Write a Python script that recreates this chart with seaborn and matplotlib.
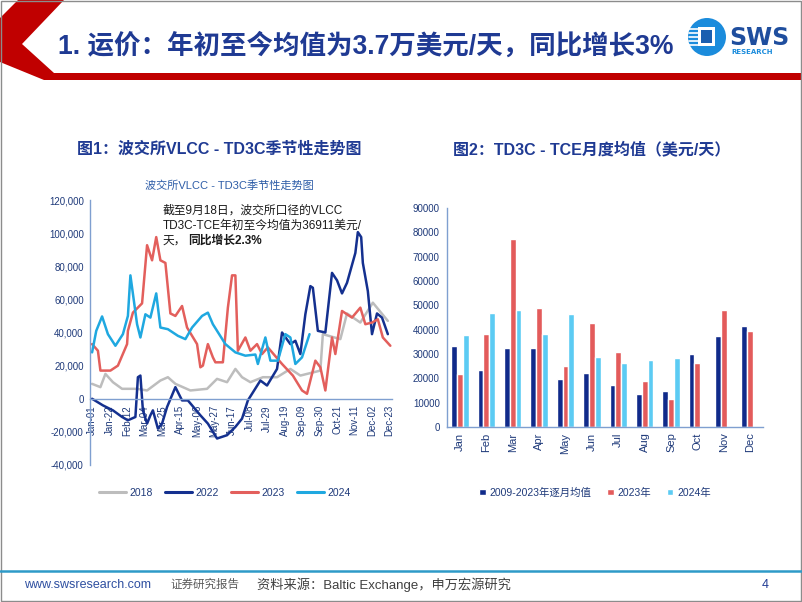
import numpy as np
import pandas as pd
import seaborn as sns
import matplotlib
matplotlib.use('Agg')
import matplotlib.pyplot as plt
from matplotlib.patches import Polygon, Circle, Rectangle
from matplotlib.ticker import FuncFormatter

# ---- line chart data (day of year, value in USD/day) ----
days_2018 = [0, 10, 16, 25, 36, 54, 66, 82, 91, 100, 118, 138, 150, 162, 172, 180, 190, 205, 222, 238, 250, 274, 277, 298, 306, 322, 337, 355]
vals_2018 = [9000, 7000, 15000, 10000, 6000, 6000, 5000, 11000, 13000, 9000, 5000, 6000, 12000, 10000, 18000, 13000, 10000, 13000, 13000, 18000, 14000, 17000, 39000, 36000, 51500, 46000, 58000, 47000]

days_2022 = [0, 13, 25, 36, 43, 52, 55, 58, 61, 66, 70, 73, 79, 84, 90, 100, 108, 115, 130, 139, 150, 162, 172, 180, 187, 202, 210, 222, 228, 238, 244, 250, 256, 262, 265, 271, 280, 288, 294, 300, 306, 316, 319, 323, 325, 331, 336, 342, 348, 355]
vals_2022 = [0, -4000, -7000, -11000, -13000, -11000, 13000, 14000, -7000, -15000, -10000, -7000, -18000, -15000, -5000, 7000, -1000, -1000, -10000, -15000, -24000, -22000, -17000, -12000, -1000, 11000, 8000, 18000, 40000, 33000, 35000, 27000, 51000, 68000, 67000, 41000, 40000, 76000, 71500, 63600, 70000, 88000, 100600, 97600, 82000, 65000, 39000, 51500, 49000, 39000]

days_2023 = [0, 7, 10, 22, 31, 42, 43, 49, 60, 66, 72, 77, 82, 88, 94, 100, 108, 114, 126, 130, 133, 139, 145, 148, 157, 163, 168, 172, 175, 184, 190, 198, 204, 211, 228, 241, 252, 258, 268, 274, 280, 288, 292, 300, 312, 322, 328, 336, 343, 349, 358]
vals_2023 = [33000, 29000, 17000, 17000, 20000, 33000, 41000, 52000, 57600, 92700, 83600, 97600, 83600, 82000, 51500, 50000, 56000, 43000, 33000, 19000, 20000, 33000, 25000, 22000, 22000, 55000, 74500, 74500, 29000, 37000, 29000, 33000, 27000, 31000, 21000, 14000, 5000, 3000, 23000, 19000, 5000, 37000, 27000, 53000, 49000, 55000, 45000, 46000, 48000, 37000, 32000]

days_2024 = [0, 5, 12, 19, 28, 37, 43, 46, 54, 58, 64, 70, 77, 82, 91, 103, 112, 120, 132, 139, 145, 160, 172, 184, 196, 199, 208, 214, 223, 232, 238, 244, 252, 261]
vals_2024 = [28000, 41000, 49700, 39000, 32000, 39000, 50000, 74500, 45000, 37000, 51000, 49000, 63600, 43000, 42000, 38000, 36000, 43000, 50000, 52000, 45000, 33000, 28000, 26000, 26700, 21000, 37000, 23000, 23000, 39000, 37000, 21000, 25000, 39000]

line_tick_labels = ['Jan-01', 'Jan-22', 'Feb-12', 'Mar-04', 'Mar-25', 'Apr-15', 'May-06', 'May-27', 'Jun-17',
                    'Jul-08', 'Jul-29', 'Aug-19', 'Sep-09', 'Sep-30', 'Oct-21', 'Nov-11', 'Dec-02', 'Dec-23']

# ---- bar chart data ----
months = ['Jan', 'Feb', 'Mar', 'Apr', 'May', 'Jun', 'Jul', 'Aug', 'Sep', 'Oct', 'Nov', 'Dec']
avg_2009_2023 = [33300, 23600, 32500, 32500, 19700, 22200, 17400, 13600, 14900, 30000, 37400, 41500]
bar_2023 = [21600, 38100, 77300, 48800, 25100, 42900, 30800, 19000, 11500, 26300, 47900, 39600]
bar_2024 = [37700, 47000, 47900, 38400, 46600, 28800, 26400, 27400, 28400]

sns.set_theme(style='white')
plt.rcParams['font.family'] = ['Liberation Sans', 'Noto Sans CJK SC', 'DejaVu Sans']
plt.rcParams['axes.unicode_minus'] = False

W, H = 802, 602
fig = plt.figure(figsize=(W / 100, H / 100), dpi=100)
fig.patch.set_facecolor('white')

# background slide layer in pixel coords
bg = fig.add_axes([0, 0, 1, 1])
bg.set_xlim(0, W)
bg.set_ylim(H, 0)
bg.axis('off')

RED = '#C00000'
bg.add_patch(Polygon([(0, 18), (18, 0), (64, 0), (22, 44), (54, 73), (W, 73), (W, 80), (44, 80), (0, 62)],
                     closed=True, color=RED, lw=0))
bg.add_patch(Rectangle((0.5, 0.5), W - 1.5, H - 1.5, fill=False, ec='#8C8C8C', lw=1))
bg.plot([0, W], [571, 571], color='#2E9AC8', lw=1.8)

navy_txt = '#1F3A93'
bg.text(58, 46, '1. 运价：年初至今均值为3.7万美元/天，同比增长3%', fontsize=19.1, fontweight='bold',
        color=navy_txt, va='center', ha='left')

# logo
bg.add_patch(Circle((707, 37), 19, color='#1B8CDC', lw=0))
bg.add_patch(Rectangle((698, 27), 17, 19, color='white', lw=0))
bg.add_patch(Rectangle((701, 30), 11, 13, color='#1B5FB0', lw=0))
for yy in [29, 33, 37, 41, 45]:
    bg.plot([689, 698], [yy, yy], color='white', lw=1.2)
bg.text(729, 38, 'SWS', fontsize=17, fontweight='bold', color='#1F4E9E', va='center', ha='left',
        family=['DejaVu Sans'])
bg.text(731, 52, 'RESEARCH', fontsize=5, fontweight='bold', color='#1B8CDC', va='center', ha='left',
        family=['DejaVu Sans'])

# footer
bg.text(24, 585, 'www.swsresearch.com', fontsize=9, color='#2E4FA0', va='center', ha='left')
bg.text(170, 585, '证券研究报告', fontsize=8.3, color='#595959', va='center', ha='left')
bg.text(257, 585, '资料来源：Baltic Exchange，申万宏源研究', fontsize=9.5, color='#404040', va='center', ha='left')
bg.text(765, 585, '4', fontsize=9, color=navy_txt, va='center', ha='center')

# subtitles
bg.text(77, 149, '图1：波交所VLCC - TD3C季节性走势图', fontsize=11.5, fontweight='bold', color=navy_txt,
        va='center', ha='left')
bg.text(453, 149, '图2：TD3C - TCE月度均值（美元/天）', fontsize=11.5, fontweight='bold', color=navy_txt,
        va='center', ha='left')
bg.text(229, 185, '波交所VLCC - TD3C季节性走势图', fontsize=8, color='#2E5DA8', va='center', ha='center')

tick_col = '#1F3A7A'
spine_col = '#7F9FD0'

# ---- line chart ----
frames = []
for yr, d, v in [('2018', days_2018, vals_2018), ('2022', days_2022, vals_2022),
                 ('2023', days_2023, vals_2023), ('2024', days_2024, vals_2024)]:
    frames.append(pd.DataFrame({'day': d, 'value': v, 'year': yr}))
line_df = pd.concat(frames, ignore_index=True)

line_pal = {'2018': '#BDBDBD', '2022': '#14308F', '2023': '#E35F5C', '2024': '#1FA8E0'}
ax1 = fig.add_axes([90 / W, 1 - 465 / H, 302 / W, 265 / H])
sns.lineplot(data=line_df, x='day', y='value', hue='year', palette=line_pal, estimator=None,
             sort=False, linewidth=1.8, ax=ax1)
# spine position first: it rebuilds the ticks
ax1.spines['bottom'].set_position(('data', 0))
ax1.spines['top'].set_visible(False)
ax1.spines['right'].set_visible(False)
ax1.set_xlim(-2.5, 360)
ax1.set_ylim(-40000, 120000)
ax1.set_yticks(np.arange(-40000, 120001, 20000))
ax1.yaxis.set_major_formatter(FuncFormatter(lambda v, p: f'{v:,.0f}'))
ax1.set_xticks(np.arange(0, 358, 21))
ax1.set_xticklabels(line_tick_labels)
for s in ['left', 'bottom']:
    ax1.spines[s].set_color(spine_col)
    ax1.spines[s].set_linewidth(1)
ax1.tick_params(axis='both', labelsize=7, colors=tick_col, length=3, width=0.8, direction='out', pad=1.5)
ax1.tick_params(axis='x', labelrotation=90, color=spine_col)
ax1.tick_params(axis='y', color=spine_col)
ax1.set_xlabel('')
ax1.set_ylabel('')
ax1.patch.set_alpha(0)
sns.move_legend(ax1, 'center', bbox_to_anchor=(0.447, -0.105), ncol=4, title=None, frameon=False,
                fontsize=7.5, handlelength=2.6, columnspacing=1.2, handletextpad=0.3)
for t in ax1.get_legend().get_texts():
    t.set_color(tick_col)
for ln in ax1.get_legend().get_lines():
    ln.set_linewidth(2.2)

# annotation text
ann_kw = dict(fontsize=8.5, color='#1A1A1A', va='center', ha='left')
bg.text(163, 211, '截至9月18日，波交所口径的VLCC', **ann_kw)
bg.text(163, 226, 'TD3C-TCE年初至今均值为36911美元/', **ann_kw)
bg.text(163, 241, '天，', **ann_kw)
bg.text(188, 241, '同比增长2.3%', fontweight='bold', **ann_kw)

# ---- bar chart ----
bar_rows = []
for name, vals in [('2009-2023年逐月均值', avg_2009_2023), ('2023年', bar_2023), ('2024年', bar_2024)]:
    for m, v in zip(months, vals):
        bar_rows.append({'month': m, 'series': name, 'value': v})
bar_df = pd.DataFrame(bar_rows)

bar_pal = {'2009-2023年逐月均值': '#102A8A', '2023年': '#E35B5B', '2024年': '#5CCBF3'}
ax2 = fig.add_axes([446.8 / W, 1 - 427 / H, 316.5 / W, 219 / H])
sns.barplot(data=bar_df, x='month', y='value', hue='series', order=months, palette=bar_pal,
            width=0.66, gap=0, errorbar=None, saturation=1, ax=ax2)
ax2.set_xlim(-0.5, 11.5)
ax2.set_ylim(0, 90000)
ax2.set_yticks(np.arange(0, 90001, 10000))
ax2.set_xticks(range(12))
ax2.set_xticklabels(months)
ax2.set_xticks(np.arange(-0.5, 12, 1), minor=True)
ax2.tick_params(axis='x', which='major', length=0, labelsize=8, colors=tick_col, pad=4, labelrotation=90)
ax2.tick_params(axis='x', which='minor', length=3, width=0.8, color=spine_col, direction='out')
ax2.tick_params(axis='y', labelsize=7, colors=tick_col, length=3, width=0.8, color=spine_col,
                direction='out', pad=2)
ax2.spines['top'].set_visible(False)
ax2.spines['right'].set_visible(False)
for s in ['left', 'bottom']:
    ax2.spines[s].set_color(spine_col)
    ax2.spines[s].set_linewidth(1)
ax2.set_xlabel('')
ax2.set_ylabel('')
ax2.patch.set_alpha(0)
sns.move_legend(ax2, 'center', bbox_to_anchor=(0.469, -0.30), ncol=3, title=None, frameon=False,
                fontsize=7.5, handlelength=0.6, handleheight=0.6, columnspacing=1.5, handletextpad=0.4)
for t in ax2.get_legend().get_texts():
    t.set_color(tick_col)

fig.savefig('out.png', dpi=100)
